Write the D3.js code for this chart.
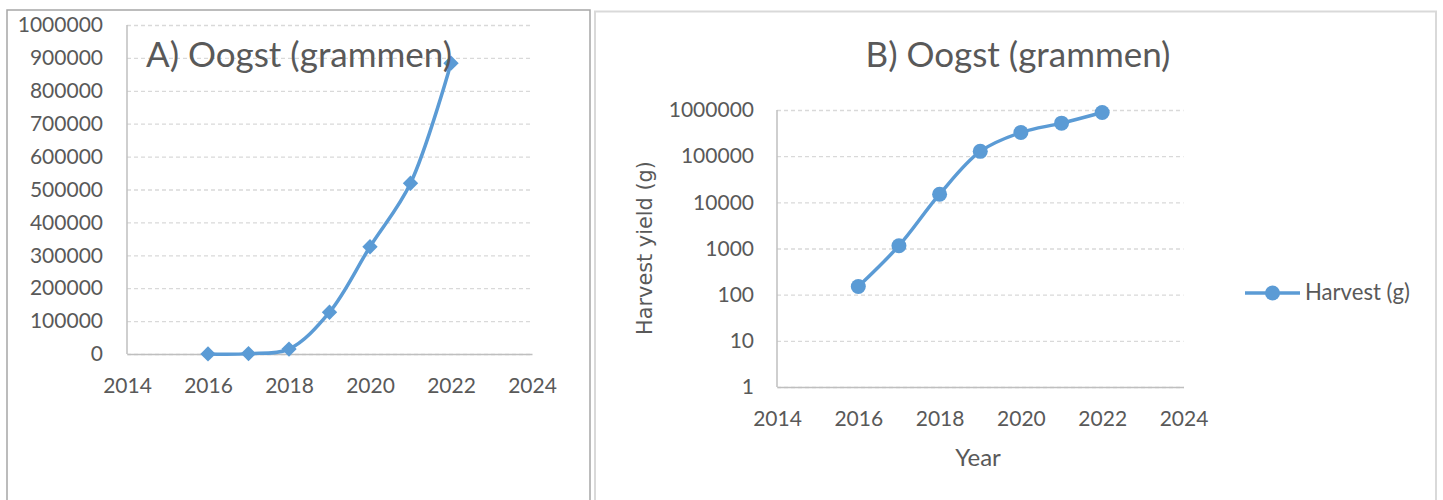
<!DOCTYPE html>
<html><head><meta charset="utf-8">
<script src="https://cdn.jsdelivr.net/npm/d3@7"></script>
<style>
html,body{margin:0;padding:0;background:#fff;}
svg{display:block;}
text{fill:#595959;}
</style></head><body>
<svg id="c" width="1443" height="500"></svg>
<script>
const years = [2016, 2017, 2018, 2019, 2020, 2021, 2022];
const harvest = [150, 1150, 15000, 127000, 326000, 519000, 884000];
const xTicks = [2014, 2016, 2018, 2020, 2022, 2024];
const yTicksA = [0,100000,200000,300000,400000,500000,600000,700000,800000,900000,1000000];
const yTicksB = [1,10,100,1000,10000,100000,1000000];
const titleA = "A) Oogst (grammen)";
const titleB = "B) Oogst (grammen)";
const seriesName = "Harvest (g)";
const yTitleB = "Harvest yield (g)";
const xTitleB = "Year";

const color = "#5b9bd5";
const FONT = "Lato, 'Open Sans', sans-serif";
const svg = d3.select("#c");
const data = years.map((y,i)=>({x:y, v:harvest[i]}));

// fit a text element's font size so its width matches a target
function fit(sel, target){
  const n = sel.node();
  const fs = parseFloat(sel.style("font-size"));
  const w = n.getComputedTextLength();
  if (w > 0) sel.style("font-size", (fs * target / w).toFixed(2) + "px");
  return sel;
}

// Panel borders
svg.append("rect").attr("x",7).attr("y",10).attr("width",583).attr("height",520)
  .attr("fill","none").attr("stroke","#a6a6a6").attr("stroke-width",1.5);
svg.append("rect").attr("x",595).attr("y",11.5).attr("width",841).attr("height",520)
  .attr("fill","none").attr("stroke","#d9d9d9").attr("stroke-width",2);

function panel(opts){
  const g = svg.append("g");
  const x = d3.scaleLinear().domain([2014,2024]).range(opts.xr);
  const y = opts.y;
  // gridlines
  g.append("g").attr("transform",`translate(${opts.xr[0]},0)`)
    .call(d3.axisLeft(y).tickValues(opts.yTicks).tickSize(-(opts.xr[1]-opts.xr[0])).tickFormat(""))
    .call(s=>s.select(".domain").remove())
    .call(s=>s.selectAll("line").attr("stroke","#d9d9d9").attr("stroke-width",1.3).attr("stroke-dasharray","4,3"));
  // y labels
  g.append("g").attr("transform",`translate(${opts.xr[0]},0)`)
    .call(d3.axisLeft(y).tickValues(opts.yTicks).tickSize(0).tickPadding(opts.yPad).tickFormat(d=>String(d)))
    .call(s=>s.select(".domain").remove())
    .call(s=>s.selectAll("text").style("font-size","21px").style("fill","#595959").style("font-family",FONT));
  // x axis
  const xa = g.append("g").attr("transform",`translate(0,${opts.y0})`)
    .call(d3.axisBottom(x).tickValues(xTicks).tickSize(0).tickPadding(opts.xPad).tickFormat(d=>String(d)));
  xa.select(".domain").attr("stroke","#bfbfbf").attr("stroke-width",1.5);
  xa.selectAll("text").style("font-size","21px").style("fill","#595959").style("font-family",FONT);
  // y axis line
  g.append("line").attr("x1",opts.xr[0]).attr("x2",opts.xr[0]).attr("y1",y.range()[1]).attr("y2",opts.y0)
    .attr("stroke","#bfbfbf").attr("stroke-width",1.5);
  // line
  const line = d3.line().x(d=>x(d.x)).y(d=>y(d.v)).curve(d3.curveCatmullRom.alpha(0.5));
  g.append("path").datum(data).attr("d",line).attr("fill","none").attr("stroke",color).attr("stroke-width",3.5);
  if(opts.marker==="diamond"){
    g.selectAll(".m").data(data).enter().append("path")
      .attr("d",d3.symbol().type(d3.symbolDiamond2).size(150))
      .attr("transform",d=>`translate(${x(d.x)},${y(d.v)})`).attr("fill",color);
  } else {
    g.selectAll(".m").data(data).enter().append("circle")
      .attr("cx",d=>x(d.x)).attr("cy",d=>y(d.v)).attr("r",7.5).attr("fill",color);
  }
  return {g,x,y};
}

const A = panel({xr:[127,532], y:d3.scaleLinear().domain([0,1000000]).range([354,25]), y0:354,
  yTicks:yTicksA, yPad:24, xPad:24, marker:"diamond"});
fit(svg.append("text").attr("x",146).attr("y",67).style("font-family",FONT).style("font-size","36px").text(titleA), 306);

const B = panel({xr:[777,1183.5], y:d3.scaleLog().domain([1,1000000]).range([387,110]), y0:387,
  yTicks:yTicksB, yPad:23, xPad:24, marker:"circle"});
fit(svg.append("text").attr("x",1018).attr("y",67).attr("text-anchor","middle").style("font-family",FONT).style("font-size","36px").text(titleB), 305);
fit(svg.append("text").attr("transform","translate(652,248) rotate(-90)").attr("text-anchor","middle")
  .style("font-family","'DejaVu Sans', Verdana, sans-serif").style("font-size","18px").text(yTitleB), 174);
svg.append("text").attr("x",978).attr("y",466).attr("text-anchor","middle").style("font-family",FONT).style("font-size","24px").text(xTitleB);

// legend
svg.append("line").attr("x1",1245).attr("x2",1300).attr("y1",293).attr("y2",293).attr("stroke",color).attr("stroke-width",3.5);
svg.append("circle").attr("cx",1272.5).attr("cy",293).attr("r",7.5).attr("fill",color);
fit(svg.append("text").attr("x",1305).attr("y",300).style("font-family",FONT).style("font-size","22px").text(seriesName), 105);
</script></body></html>
